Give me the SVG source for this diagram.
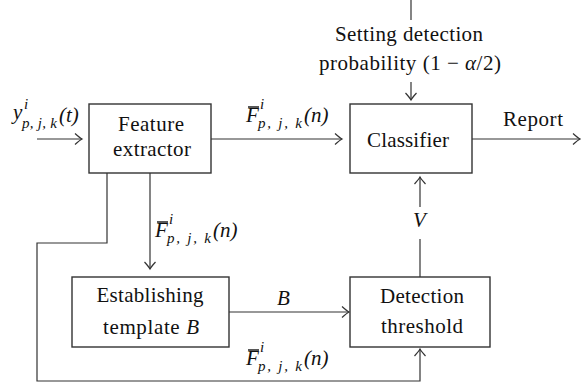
<svg xmlns="http://www.w3.org/2000/svg" width="581" height="387" viewBox="0 0 581 387">
<style>
.box{fill:#fff;stroke:#333;stroke-width:1.4}
.ln{fill:none;stroke:#333;stroke-width:1.2}
.t{font-family:"Liberation Serif","Times New Roman",serif;font-size:21px;fill:#111;text-anchor:middle}
.m{font-family:"Liberation Serif","Times New Roman",serif;font-size:21px;fill:#111;font-style:italic}
.s{font-size:15px}
.ov{stroke:#111;stroke-width:1.4}
</style>
<defs>
<marker id="ar" viewBox="-10 -7 12 14" refX="0" refY="0" markerWidth="12" markerHeight="14" markerUnits="userSpaceOnUse" orient="auto">
<path d="M-7,-5.5 Q-2,-1 0,0 Q-2,1 -7,5.5" fill="none" stroke="#333" stroke-width="1.2"/>
</marker>
</defs>
<rect width="581" height="387" fill="#fff"/>
<g id="connectors">
<line class="ln" x1="37" y1="139" x2="82" y2="139" marker-end="url(#ar)"/>
<line class="ln" x1="211" y1="139" x2="342" y2="139" marker-end="url(#ar)"/>
<line class="ln" x1="472" y1="139" x2="580" y2="139" marker-end="url(#ar)"/>
<line class="ln" x1="411" y1="0" x2="411" y2="20"/>
<line class="ln" x1="411" y1="82" x2="411" y2="100" marker-end="url(#ar)"/>
<line class="ln" x1="420" y1="207" x2="420" y2="177" marker-end="url(#ar)"/>
<line class="ln" x1="420" y1="277" x2="420" y2="239"/>
<line class="ln" x1="150" y1="173" x2="150" y2="269" marker-end="url(#ar)"/>
<polyline class="ln" points="107,173 107,243 37,243 37,381 420,381 420,349" marker-end="url(#ar)"/>
<line class="ln" x1="229" y1="312" x2="349" y2="312" marker-end="url(#ar)"/>
</g>
<g id="labels">
<text class="m" x="13" y="119">y</text>
<text class="m s" x="24" y="109">i</text>
<text class="m s" x="22" y="128" textLength="35">p, j, k</text>
<text class="m" x="59" y="122">(t)</text>

<line class="ov" x1="248" y1="107" x2="259" y2="107"/>
<text class="m" x="246" y="122">F</text>
<text class="m s" x="260" y="109">i</text>
<text class="m s" x="258" y="128" textLength="44">p, j, k</text>
<text class="m" x="304" y="122">(n)</text>

<line class="ov" x1="157" y1="222" x2="168" y2="222"/>
<text class="m" x="155" y="237">F</text>
<text class="m s" x="169" y="224">i</text>
<text class="m s" x="167" y="243" textLength="44">p, j, k</text>
<text class="m" x="213" y="237">(n)</text>

<line class="ov" x1="248" y1="350" x2="259" y2="350"/>
<text class="m" x="246" y="365">F</text>
<text class="m s" x="260" y="352">i</text>
<text class="m s" x="258" y="371" textLength="44">p, j, k</text>
<text class="m" x="304" y="365">(n)</text>

<text class="t" x="409" y="41" textLength="148">Setting detection</text>
<text class="t" x="410" y="70" textLength="182">probability (1 − <tspan font-style="italic">α</tspan>/2)</text>
<text class="t" x="533" y="126" textLength="60">Report</text>
<text class="m" x="277" y="305">B</text>
<text class="m" x="413" y="227">V</text>
</g>
<g id="feature-extractor">
<rect class="box" x="89" y="104" width="122" height="69"/>
<text class="t" x="151" y="131" textLength="66">Feature</text>
<text class="t" x="152" y="156" textLength="78">extractor</text>
</g>
<g id="classifier">
<rect class="box" x="350" y="104" width="122" height="69"/>
<text class="t" x="408" y="147" textLength="82">Classifier</text>
</g>
<g id="establishing-template">
<rect class="box" x="72" y="277" width="157" height="70"/>
<text class="t" x="150" y="302" textLength="107">Establishing</text>
<text class="t" x="151" y="334" textLength="96">template <tspan font-style="italic">B</tspan></text>
</g>
<g id="detection-threshold">
<rect class="box" x="350" y="277" width="140" height="70"/>
<text class="t" x="422" y="303" textLength="84">Detection</text>
<text class="t" x="422" y="333" textLength="82">threshold</text>
</g>
</svg>
